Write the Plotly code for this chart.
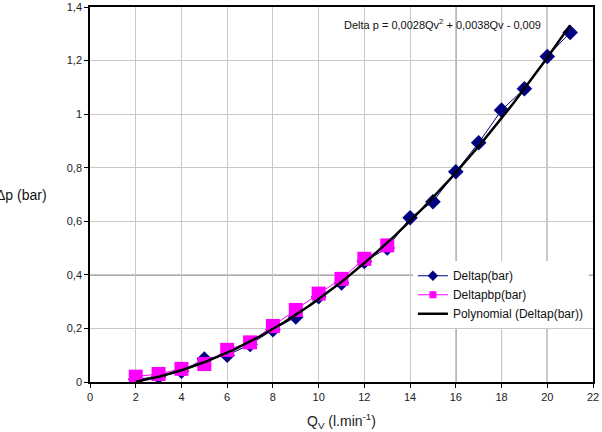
import numpy as np
import plotly.graph_objects as go

qv_deltap = [2, 3, 4, 5, 6, 7, 8, 9, 10, 11, 12, 13, 14, 15, 16, 17, 18, 19, 20, 21]
deltap = [0.01, 0.02, 0.04, 0.086, 0.10, 0.14, 0.195, 0.243, 0.318, 0.37, 0.45, 0.50,
          0.613, 0.673, 0.785, 0.893, 1.015, 1.095, 1.215, 1.305]
qv_deltapbp = [2, 3, 4, 5, 6, 7, 8, 9, 10, 11, 12, 13]
deltapbp = [0.02, 0.03, 0.049, 0.067, 0.12, 0.148, 0.209, 0.269, 0.33, 0.385, 0.46, 0.51]

y_ticks = [0, 0.2, 0.4, 0.6, 0.8, 1.0, 1.2, 1.4]
y_ticklabels = ["0", "0,2", "0,4", "0,6", "0,8", "1", "1,2", "1,4"]
x_ticks = list(range(0, 23, 2))
dark_x_grid = [16, 18, 20]
dark_y_grid = [0.4]
equation = "Delta p = 0,0028Qv<sup>2</sup> + 0,0038Qv - 0,009"

coef = np.polyfit(qv_deltap, deltap, 2)
fit_x = np.linspace(min(qv_deltap), max(qv_deltap), 200)
fit_y = np.polyval(coef, fit_x)

FONT = "Liberation Sans, Arial, sans-serif"
NAVY = "#000080"
MAGENTA = "#FF00FF"

fig = go.Figure()
fig.add_trace(go.Scatter(x=qv_deltap, y=deltap, mode="lines+markers", name="Deltap(bar)",
                         line=dict(color=NAVY, width=1), showlegend=False,
                         marker=dict(symbol="diamond", size=12, color=NAVY)))
fig.add_trace(go.Scatter(x=qv_deltapbp, y=deltapbp, mode="lines+markers", name="Deltapbp(bar)",
                         line=dict(color=MAGENTA, width=1), showlegend=False,
                         marker=dict(symbol="square", size=14, color=MAGENTA)))
fig.add_trace(go.Scatter(x=fit_x, y=fit_y, mode="lines", name="Polynomial (Deltap(bar))",
                         line=dict(color="black", width=2.5), showlegend=False))
# legend entries with smaller symbols, as in the reference legend
fig.add_trace(go.Scatter(x=[None], y=[None], mode="lines+markers", name="Deltap(bar)",
                         line=dict(color=NAVY, width=1),
                         marker=dict(symbol="diamond", size=8, color=NAVY)))
fig.add_trace(go.Scatter(x=[None], y=[None], mode="lines+markers", name="Deltapbp(bar)",
                         line=dict(color=MAGENTA, width=1),
                         marker=dict(symbol="square", size=7, color=MAGENTA)))
fig.add_trace(go.Scatter(x=[None], y=[None], mode="lines", name="Polynomial (Deltap(bar))",
                         line=dict(color="black", width=2.5)))

shapes = []
for xv in dark_x_grid:
    shapes.append(dict(type="line", xref="x", yref="paper", x0=xv, x1=xv, y0=0, y1=1,
                       line=dict(color="#1a1a1a", width=1), layer="between"))
for yv in dark_y_grid:
    shapes.append(dict(type="line", xref="paper", yref="y", x0=0, x1=1, y0=yv, y1=yv,
                       line=dict(color="#1a1a1a", width=1), layer="between"))

fig.update_layout(
    width=602, height=432,
    margin=dict(l=90, r=9, t=7, b=50),
    paper_bgcolor="white", plot_bgcolor="white",
    font=dict(family=FONT, size=11, color="#222222"),
    showlegend=True,
    legend=dict(x=0.642, y=0.322, xanchor="left", yanchor="top",
                bgcolor="white", borderwidth=0, font=dict(size=12, family=FONT, color="#111111"),
                itemwidth=30, tracegroupgap=0),
    shapes=shapes,
    xaxis=dict(range=[0, 22], tickvals=x_ticks, showgrid=True, gridcolor="#c8c8c8", gridwidth=1,
               showline=True, linecolor="black", linewidth=1.5, mirror=True, automargin=False,
               ticks="outside", ticklen=4, tickcolor="black", zeroline=False,
               title=dict(text="Q<sub>V</sub> (l.min<sup>-1</sup>)", font=dict(size=14), standoff=14)),
    yaxis=dict(range=[0, 1.4], tickvals=y_ticks, ticktext=y_ticklabels, showgrid=True,
               gridcolor="#c8c8c8", gridwidth=1, automargin=False,
               showline=True, linecolor="black", linewidth=1.5, mirror=True,
               ticks="outside", ticklen=4, tickcolor="black", zeroline=False),
    annotations=[
        dict(text=equation, xref="paper", yref="paper", x=0.70, y=0.955, showarrow=False,
             xanchor="center", yanchor="middle", font=dict(size=11, color="#111111")),
        dict(text="Δp (bar)", xref="paper", yref="paper", x=-0.081, y=0.50, showarrow=False,
             xanchor="right", yanchor="middle", font=dict(size=14, color="#111111")),
    ],
)

fig.write_html("out.html")
